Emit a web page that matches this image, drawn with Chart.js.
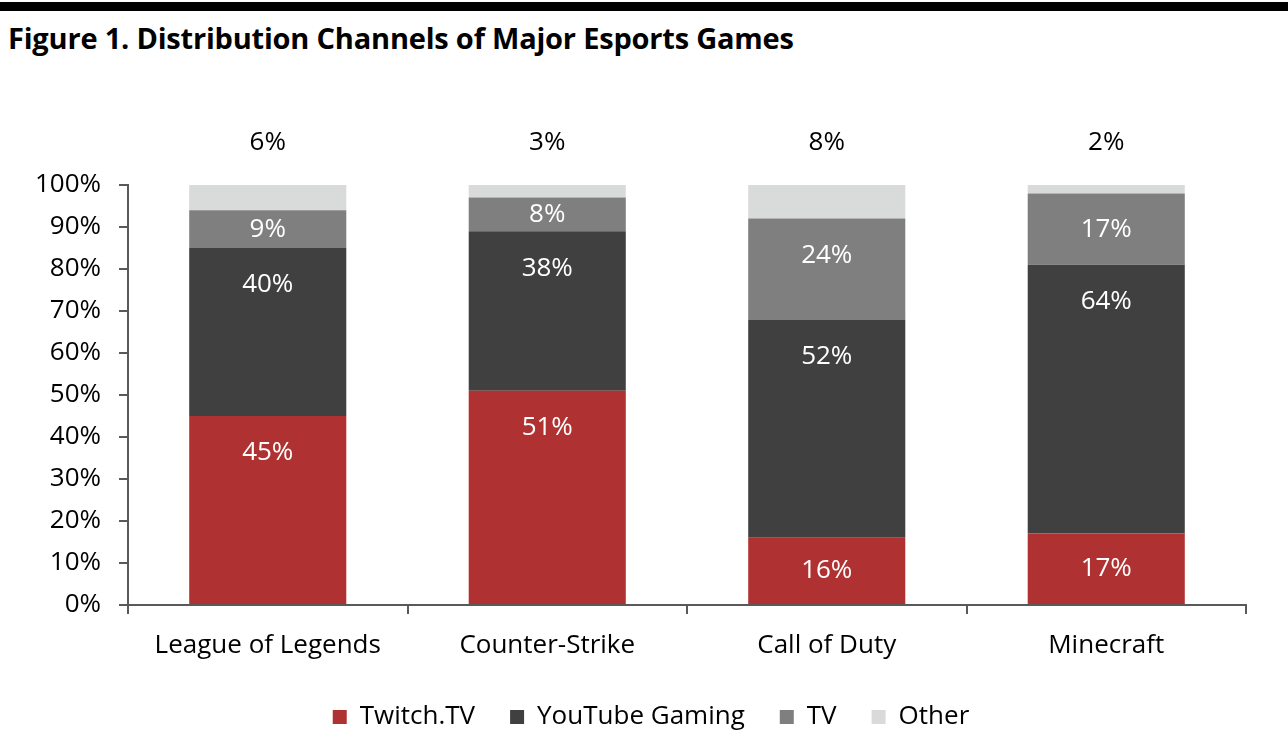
<!DOCTYPE html>
<html>
<head>
<meta charset="utf-8">
<title>Distribution Channels of Major Esports Games</title>
<script src="https://cdn.jsdelivr.net/npm/chart.js@4/dist/chart.umd.min.js"></script>
<style>
  html, body { margin: 0; padding: 0; background: #fff; }
  body { width: 1288px; height: 754px; position: relative; overflow: hidden; font-family: "Open Sans", sans-serif; }
  .topbar { position: absolute; left: 0; top: 2px; width: 1288px; height: 9px; background: #000; }
  h1 { position: absolute; left: 8px; top: 18px; margin: 0; font-size: 29px; font-weight: 700; color: #000; letter-spacing: -0.2px; }
  canvas { position: absolute; left: 0; top: 0; }
</style>
</head>
<body>
<div class="topbar"></div>
<h1>Figure 1. Distribution Channels of Major Esports Games</h1>
<canvas id="chart" width="1288" height="754"></canvas>
<script>
// games and shares (%) per channel
const games = ['League of Legends', 'Counter-Strike', 'Call of Duty', 'Minecraft'];
const twitch = [45, 51, 16, 17];
const youtube = [40, 38, 52, 64];
const tv = [9, 8, 24, 17];
const other = [6, 3, 8, 2];

const RED = '#B03131';
const DARK = '#404040';
const GREY = '#7F7F7F';
const LIGHT = '#D9DADA';
const AXIS = '#595959';
const FONT = '"Open Sans", sans-serif';

// value labels: white inside the lower segments, black above the top one
const segmentLabels = {
  id: 'segmentLabels',
  afterDatasetsDraw(chart) {
    const ctx = chart.ctx;
    ctx.save();
    ctx.font = '26px ' + FONT;
    ctx.textAlign = 'center';
    ctx.textBaseline = 'middle';
    chart.data.datasets.forEach((ds, di) => {
      const meta = chart.getDatasetMeta(di);
      meta.data.forEach((bar, i) => {
        const txt = ds.data[i] + '%';
        if (di === 3) {
          ctx.fillStyle = '#000';
          ctx.fillText(txt, bar.x, bar.y - 42);
        } else {
          const h = bar.base - bar.y;
          ctx.fillStyle = '#fff';
          ctx.fillText(txt, bar.x, bar.y + Math.min(37, h / 2));
        }
      });
    });
    ctx.restore();
  }
};

// the legend in the original is centred a bit right of the canvas middle
const legendShift = {
  id: 'legendShift',
  afterLayout(chart) {
    if (chart.legend) { chart.legend.left += 28; chart.legend.right += 28; }
  }
};

const bar = (label, data, color) => ({
  label, data, backgroundColor: color, borderWidth: 0,
  barPercentage: 0.562, categoryPercentage: 1,
});

new Chart(document.getElementById('chart'), {
  type: 'bar',
  data: {
    labels: games,
    datasets: [
      bar('Twitch.TV', twitch, RED),
      bar('YouTube Gaming', youtube, DARK),
      bar('TV', tv, GREY),
      bar('Other', other, LIGHT),
    ],
  },
  options: {
    responsive: false,
    devicePixelRatio: 1,
    animation: false,
    layout: { padding: { top: 185, right: 42, left: 0, bottom: 14 } },
    plugins: {
      tooltip: { enabled: false },
      legend: {
        position: 'bottom',
        labels: {
          color: '#000',
          font: { family: FONT, size: 26 },
          boxWidth: 14, boxHeight: 14,
          padding: 35,
        },
      },
    },
    scales: {
      x: {
        stacked: true,
        grid: { drawOnChartArea: false, drawTicks: true, tickLength: 9, color: AXIS, lineWidth: 2 },
        border: { color: AXIS, width: 2 },
        ticks: { color: '#000', font: { family: FONT, size: 26 }, padding: 16 },
        afterFit(scale) { scale.height = 64; },
      },
      y: {
        stacked: true,
        min: 0, max: 100,
        grid: { drawOnChartArea: false, drawTicks: true, tickLength: 9, color: AXIS, lineWidth: 2 },
        border: { color: AXIS, width: 2 },
        ticks: {
          stepSize: 10, color: '#000', padding: 18,
          font: { family: FONT, size: 26 },
          callback: v => v + '%',
        },
        afterFit(scale) { scale.width = 128; },
      },
    },
  },
  plugins: [segmentLabels, legendShift],
});
</script>
</body>
</html>
